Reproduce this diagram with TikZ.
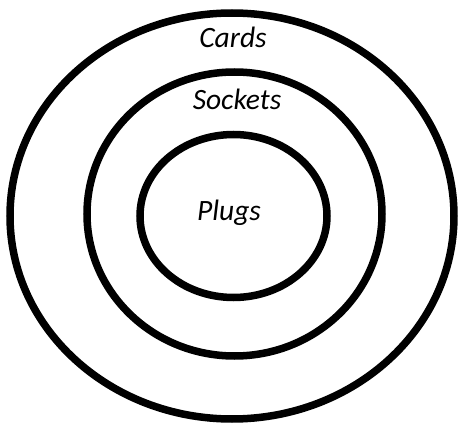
\documentclass[tikz,border=0pt]{standalone}
\usepackage{fontspec}
\setmainfont{Carlito}
\begin{document}
\begin{tikzpicture}[x=1pt,y=-1pt,
  ring/.style={draw=black,line width=7.5pt},
  lbl/.style={anchor=base,font=\itshape\fontsize{29.5}{32}\selectfont,inner sep=0pt}]
\useasboundingbox (0,0) rectangle (459,423);
\fill[white] (0,0) rectangle (459,423);
\draw[ring] (232,216) ellipse [x radius=222, y radius=203];
\draw[ring] (234.5,214) ellipse [x radius=147.5, y radius=142];
\draw[ring] (233.5,216) ellipse [x radius=93.5, y radius=81.5];
\node[lbl] (cards) at (233,48) {Cards};
\node[lbl] (sockets) at (237,110) {Sockets};
\node[lbl] (plugs) at (229,220) {Plugs};
\end{tikzpicture}
\end{document}
